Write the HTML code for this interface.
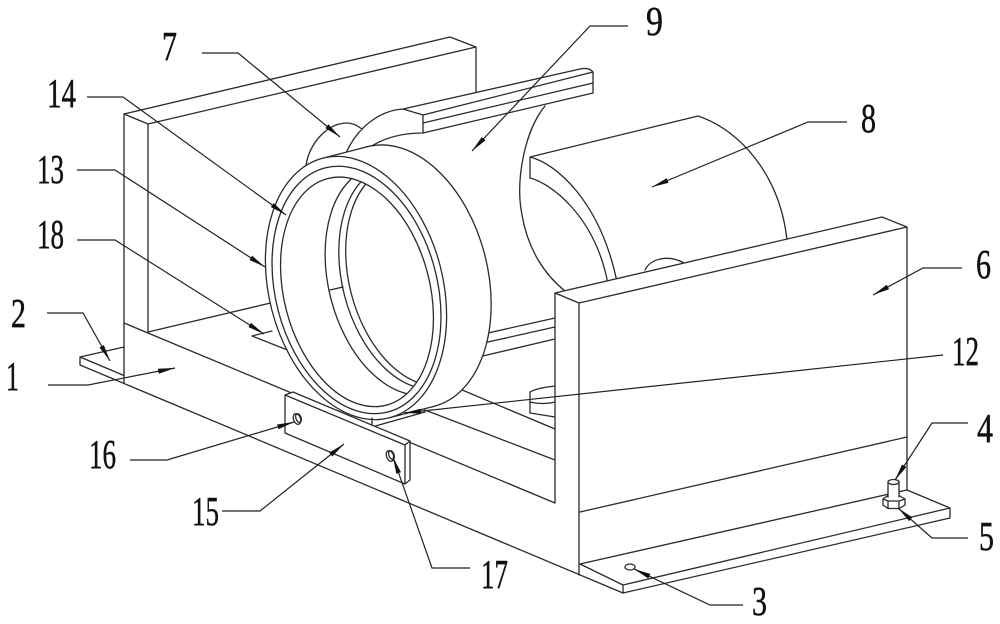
<!DOCTYPE html>
<html><head><meta charset="utf-8"><style>
html,body{margin:0;padding:0;background:#fff;}
svg{display:block}
</style></head><body>
<svg width="1000" height="624" viewBox="0 0 1000 624" xmlns="http://www.w3.org/2000/svg">
<defs>
<marker id="ar" markerWidth="20" markerHeight="8" refX="17" refY="4" orient="auto" markerUnits="userSpaceOnUse"><path d="M0,1.5 L17,4 L0,6.5 Z" fill="#111"/></marker>
<clipPath id="inner"><ellipse cx="0" cy="4" rx="73" ry="117"/></clipPath>
</defs>
<rect width="1000" height="624" fill="#fff"/>
<g fill="none" stroke="#2a2a2a" stroke-width="1.3" stroke-linejoin="round" stroke-linecap="round">
<!-- back plate -->
<polygon points="148,124 476,47 476,300 148,332" fill="#fff" stroke="none"/>
<path d="M124,114 L450,37 L476,47 L148,124 L124,114 M124,114 L124,383 M148,124 L148,332 M476,47 L476,92 M148,332 L300,296"/>
<!-- base block and left foot plate -->
<path d="M124,323 L555,503 M80,365 L623,593 M80,357 L124,347 M80,357 L124,375.5 M80,357 L80,365"/>
<!-- rail and bracket -->
<path d="M403,109 L580,69 Q590,67 593,72 L593,93 L423,133 C400,133 382,138 367,148 L347,152 C357,130 380,110 403,109 Z" fill="#fff" stroke="none"/>
<path d="M403,109 L580,69 Q589,67 593,72 M423,115 L593,72 M423,123 L593,83 M423,133 L593,93 M423,115 L423,133 M593,72 L593,93 M403,109 L423,115 M403,109 C385,110 360,122 346,153 M423,133 C400,133 380,139 364,151"/>
<!-- bump 7 -->
<path d="M306,165 C310,142 328,123 347,123 C353,123 358,126 362,129" fill="#fff"/>
<!-- cylinder 9 right end arc -->
<path d="M545,106 C525,130 515,180 522,215 C528,250 545,275 565,291"/>
<!-- holder 8 -->
<path d="M530,157 L698,116 C740,130 780,175 787,240 L617,282 C605,220 575,175 530,157 Z" fill="#fff" stroke="none"/>
<path d="M530,157 L698,116 M698,116 C740,130 780,175 787,240 M530,157 C555,163 600,200 617,282 M530,178 C550,183 595,215 608,284 M530,157 L530,178"/>
<!-- bump near 8 -->
<path d="M645,270 C650,259 668,254 684,263" fill="#fff"/>
<!-- lower rails -->
<path d="M470,337 L555,318 M470,346 L555,327 M470,359 L555,339"/>
<!-- half cylinder near 12 -->
<path d="M530,392 C537,388 548,387 555,386 L555,417 L530,413 Z" fill="#fff" stroke="none"/>
<path d="M530,392 L530,413 M530,392 C537,388 548,387 555,386 M530,402 C538,404 548,404 555,402 M530,413 L555,417"/>
<!-- block top lines -->
<path d="M455,387 L555,429 M425,410 L555,460"/>
<!-- strip 18 -->
<path d="M252,336 L272,331 M252,336 L290,351"/>
<!-- ring assembly -->
<g transform="translate(356,288) rotate(-14.4)">
<ellipse cx="46" cy="0" rx="87" ry="134" fill="#fff"/>
<rect x="0" y="-134" width="46" height="268" fill="#fff" stroke="none"/>
<path d="M0,-134 L46,-134 M0,134 L46,134"/>
<ellipse cx="0" cy="0" rx="87" ry="134" fill="#fff"/>
<ellipse cx="0" cy="2" rx="81" ry="126"/>
<ellipse cx="0" cy="4" rx="73" ry="117" fill="#fff"/>
<g clip-path="url(#inner)">
<ellipse cx="46" cy="4" rx="73" ry="117"/>
<ellipse cx="58" cy="4" rx="71" ry="114"/>
<ellipse cx="64" cy="4" rx="70" ry="112"/>
</g>
</g>
<path d="M330,290 L343,287"/>
<!-- ring support bottom -->
<path d="M372,418 L372,427 L425,412"/>
<!-- plate 6 + block right face -->
<polygon points="555,293 882,217 907,227 907,490 580,564 579,512 555,503" fill="#fff" stroke="none"/>
<path d="M555,293 L882,217 L907,227 L579,303 L555,293 M555,293 L555,503 M579,303 L579,575 M907,227 L907,490 M580,512 L907,437"/>
<!-- right foot plate -->
<path d="M580,564 L623,585 L950,508 L907,490 M580,564 L907,490 M623,585 L623,593 M623,593 L950,518 M950,508 L950,518"/>
<ellipse cx="630" cy="567" rx="5" ry="3"/>
<!-- bolt 4 / nut 5 -->
<path d="M883,499 L888,495.5 L899,495.5 L905,499 L905,505 L899,508.5 L888,508.5 L883,505 Z" fill="#fff"/>
<path d="M883,499 L888,501 L899,501 L905,499 M888,501 L888,508.5 M899,501 L899,508.5"/>
<rect x="888" y="482" width="11" height="15" fill="#fff" stroke="none"/>
<path d="M888,482 L888,497 M899,482 L899,497"/>
<ellipse cx="893.5" cy="482" rx="5.5" ry="2.5" fill="#fff"/>
<!-- plate 15 -->
<polygon points="285,395 293,392 410,441 410,480 405,484 285,433" fill="#fff" stroke="none"/>
<path d="M285,395 L405,445 L405,484 L285,433 Z M285,395 L293,392 L410,441 L405,445 M410,441 L410,480 L405,484"/>
<ellipse cx="297" cy="419" rx="3.5" ry="5.5" transform="rotate(-20 297 419)"/>
<ellipse cx="298.5" cy="418" rx="2.6" ry="4.5" transform="rotate(-20 298.5 418)"/>
<ellipse cx="390" cy="456" rx="3.5" ry="5.5" transform="rotate(-20 390 456)"/>
<ellipse cx="391.5" cy="455" rx="2.6" ry="4.5" transform="rotate(-20 391.5 455)"/>
</g>
<!-- leaders -->
<g fill="none" stroke="#222" stroke-width="1.2" marker-end="url(#ar)">
<polyline points="202,53 238,53 340,137"/>
<polyline points="87,97 123,97 286,215"/>
<polyline points="77,170 115,170 265,267"/>
<polyline points="77,240 115,240 264,334"/>
<polyline points="47,313 83,313 110,361"/>
<polyline points="48,385 88,385 175,368"/>
<polyline points="130,460 167,460 294,422"/>
<polyline points="222,511 260,511 344,444"/>
<polyline points="470,568 432,568 393,457"/>
<polyline points="743,605 710,605 634,569"/>
<polyline points="968,538 932,538 898,508"/>
<polyline points="968,423 932,423 895,480"/>
<polyline points="943,355 404,413"/>
<polyline points="962,268 923,268 873,295"/>
<polyline points="847,122 808,122 652,187"/>
<polyline points="628,26 590,26 472,151"/>
</g>
<!-- labels -->
<g font-family="'Liberation Serif', serif" font-size="41" fill="#111" stroke="#111" stroke-width="0.5">
<text x="162" y="60" textLength="15" lengthAdjust="spacingAndGlyphs">7</text>
<text x="47" y="107" textLength="29" lengthAdjust="spacingAndGlyphs">14</text>
<text x="37" y="183" textLength="27" lengthAdjust="spacingAndGlyphs">13</text>
<text x="37" y="248" textLength="27" lengthAdjust="spacingAndGlyphs">18</text>
<text x="11" y="327" textLength="15" lengthAdjust="spacingAndGlyphs">2</text>
<text x="6" y="390" textLength="13" lengthAdjust="spacingAndGlyphs">1</text>
<text x="89" y="468" textLength="27" lengthAdjust="spacingAndGlyphs">16</text>
<text x="192" y="525" textLength="27" lengthAdjust="spacingAndGlyphs">15</text>
<text x="481" y="588" textLength="27" lengthAdjust="spacingAndGlyphs">17</text>
<text x="752" y="615" textLength="15" lengthAdjust="spacingAndGlyphs">3</text>
<text x="979" y="550" textLength="15" lengthAdjust="spacingAndGlyphs">5</text>
<text x="977" y="442" textLength="16" lengthAdjust="spacingAndGlyphs">4</text>
<text x="952" y="365" textLength="27" lengthAdjust="spacingAndGlyphs">12</text>
<text x="976" y="278" textLength="15" lengthAdjust="spacingAndGlyphs">6</text>
<text x="861" y="132" textLength="15" lengthAdjust="spacingAndGlyphs">8</text>
<text x="646" y="35" textLength="17" lengthAdjust="spacingAndGlyphs">9</text>
</g>
</svg>
</body></html>
